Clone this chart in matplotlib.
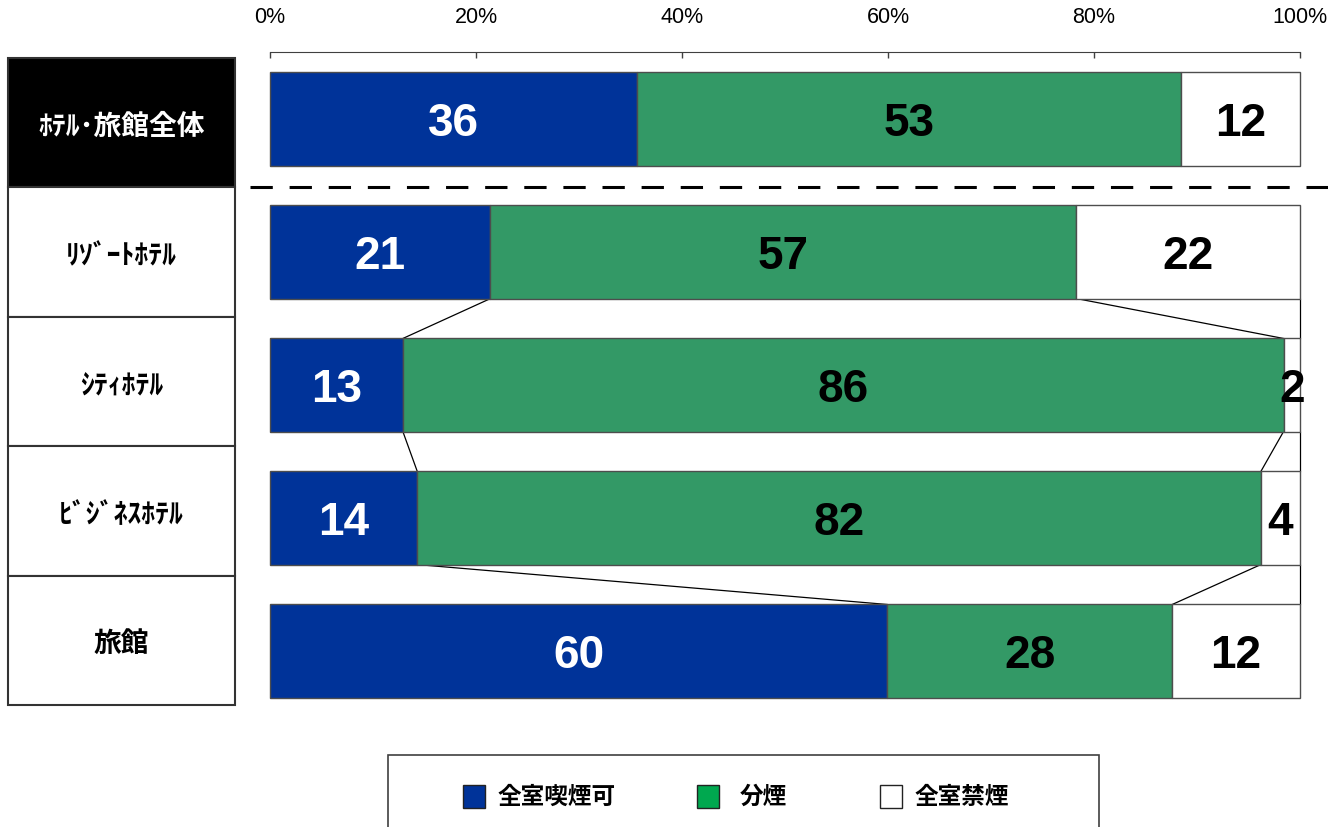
import numpy as np
from matplotlib import pyplot as plt
from matplotlib.patches import Rectangle
from matplotlib.lines import Line2D

plt.rcParams['font.family'] = ['Liberation Sans', 'Noto Sans CJK JP', 'DejaVu Sans']

# データ（％）
categories = ['ﾎﾃﾙ･旅館全体', 'ﾘｿﾞｰﾄﾎﾃﾙ', 'ｼﾃｨﾎﾃﾙ', 'ﾋﾞｼﾞﾈｽﾎﾃﾙ', '旅館']
series_names = ['全室喫煙可', '分煙', '全室禁煙']
smoking_ok = [35.6, 21.4, 12.9, 14.3, 59.9]
separated = [52.8, 56.9, 85.5, 81.9, 27.7]
non_smoking = [11.6, 21.7, 1.6, 3.8, 12.4]
tick_vals = [0, 20, 40, 60, 80, 100]

bar_colors = ['#003399', '#339966', '#ffffff']
legend_colors = ['#003399', '#00a84f', '#ffffff']
text_colors = ['white', 'black', 'black']

W, H = 1328, 827
def box(x0, y0, x1, y1):
    return [x0 / W, 1 - y1 / H, (x1 - x0) / W, (y1 - y0) / H]

fig = plt.figure(figsize=(W / 100, H / 100), dpi=100)

# 帯グラフ
ax = fig.add_axes(box(270, 52, 1300, 705))
y = np.arange(len(categories))
bh = 0.70
left = np.zeros(len(categories))
cums = []
for vals, c, tc in zip([smoking_ok, separated, non_smoking], bar_colors, text_colors):
    vals = np.array(vals)
    bars = ax.barh(y, vals, left=left, height=bh, color=c, edgecolor='#4d4d4d', linewidth=1, zorder=3)
    for b in bars:
        b.set_clip_on(False)
    for yi, l, v in zip(y, left, vals):
        ax.text(l + v / 2, yi + 0.035, '%.0f' % v, ha='center', va='center', color=tc,
                fontsize=33, fontweight='bold', zorder=5)
    left = left + vals
    cums.append(left.copy())

# 区分線（ホテル種別の間）
for cum in cums:
    for i in range(1, len(categories) - 1):
        ax.plot([cum[i], cum[i + 1]], [i + bh / 2, i + 1 - bh / 2], color='black', lw=0.9,
                zorder=2, clip_on=False)

ax.set_xlim(0, 100)
ax.set_ylim(4.406, -0.504)
ax.xaxis.tick_top()
ax.set_xticks(tick_vals)
ax.set_xticklabels(['%d%%' % t for t in tick_vals])
ax.tick_params(axis='x', direction='in', length=4.3, width=1, pad=17, labelsize=15.5, color='#404040')
ax.set_yticks([])
for s in ['bottom', 'left', 'right']:
    ax.spines[s].set_visible(False)
ax.spines['top'].set_color('#404040')

# 点線
fig.add_artist(Line2D([250 / W, 1.0], [1 - 187 / H] * 2, color='black', lw=2.2,
                      ls=(0, (7.3, 5.5)), transform=fig.transFigure))

# 左側の項目ラベル
lab = fig.add_axes(box(8, 58, 235, 705))
lab.set_xlim(0, 1)
lab.set_ylim(len(categories), 0)
lab.axis('off')
for i, name in enumerate(categories):
    fc = 'black' if i == 0 else 'white'
    lab.add_patch(Rectangle((0, i), 1, 1, facecolor=fc, edgecolor='#333333', lw=1.5, clip_on=False))
    lab.text(0.5, i + 0.53, name, ha='center', va='center', fontsize=20, fontweight='bold',
             color='white' if i == 0 else 'black', family=['Noto Sans CJK JP', 'DejaVu Sans'])

# 凡例
fig.add_artist(Rectangle((388 / W, 1 - 840 / H), (1099 - 388) / W, (840 - 755) / H,
                         facecolor='white', edgecolor='#404040', lw=1.2, transform=fig.transFigure))
sw_x = [463, 697, 880]
tx_x = [498, 740, 915]
for name, c, sx, tx in zip(series_names, legend_colors, sw_x, tx_x):
    fig.add_artist(Rectangle((sx / W, 1 - 808 / H), 22 / W, 23 / H, facecolor=c,
                             edgecolor='#222222', lw=1, transform=fig.transFigure))
    fig.text(tx / W, 1 - 797 / H, name, ha='left', va='center', fontsize=17, fontweight='bold',
             family=['Noto Sans CJK JP', 'DejaVu Sans'])

fig.savefig('out.png', dpi=100)
